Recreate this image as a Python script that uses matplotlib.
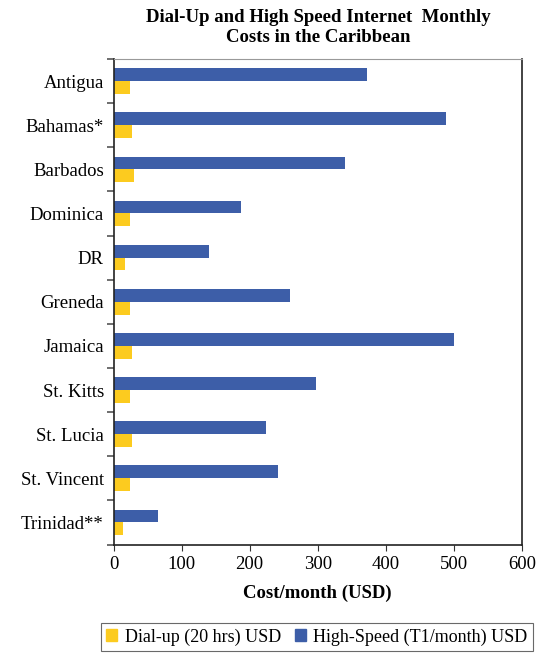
import numpy as np
import matplotlib
matplotlib.use("Agg")
import matplotlib.pyplot as plt
from matplotlib.patches import Patch

plt.rcParams['font.family'] = ['Liberation Serif', 'DejaVu Serif']

# Data
countries = ['Antigua', 'Bahamas*', 'Barbados', 'Dominica', 'DR', 'Greneda',
             'Jamaica', 'St. Kitts', 'St. Lucia', 'St. Vincent', 'Trinidad**']
dialup = [24, 27, 30, 24, 17, 24, 27, 24, 27, 24, 14]
highspeed = [373, 489, 340, 187, 140, 259, 500, 298, 224, 241, 65]

blue = '#3d5ea8'
yellow = '#fccb1f'
fs = 13.5

fig = plt.figure(figsize=(5.47, 6.55), dpi=100)
ax = fig.add_axes([113.5 / 547, 1 - 544.5 / 655, (522 - 113.5) / 547, (544.5 - 59) / 655])

y = np.arange(len(countries))
h = 0.29
ax.barh(y - h / 2, highspeed, height=h, color=blue)
ax.barh(y + h / 2, dialup, height=h, color=yellow)

ax.set_xlim(0, 600)
ax.set_ylim(len(countries) - 0.5, -0.5)
ax.set_xticks(range(0, 601, 100))
ax.tick_params(axis='x', labelsize=fs, direction='out', length=4, color='#333333', pad=4)
ax.set_yticks(y)
ax.set_yticklabels(countries, fontsize=fs)
ax.tick_params(axis='y', which='major', length=0, pad=7)
ax.set_yticks(np.arange(-0.5, len(countries), 1), minor=True)
ax.tick_params(axis='y', which='minor', length=5, width=1.2, color='#555555')

for s in ['left', 'right', 'bottom']:
    ax.spines[s].set_color('#222222')
    ax.spines[s].set_linewidth(1.2)
ax.spines['top'].set_color('#999999')

ax.set_xlabel('Cost/month (USD)', fontsize=fs, fontweight='bold', labelpad=9)
fig.text(0.582, 0.986, 'Dial-Up and High Speed Internet  Monthly\nCosts in the Caribbean',
         ha='center', va='top', fontsize=fs, fontweight='bold', linespacing=1.25)

handles = [Patch(color=yellow), Patch(color=blue)]
leg = fig.legend(handles, ['Dial-up (20 hrs) USD', 'High-Speed (T1/month) USD'],
                 loc='center', bbox_to_anchor=(317 / 547, 1 - 637 / 655), ncol=2,
                 fontsize=13, frameon=True, fancybox=False, edgecolor='#444444',
                 handlelength=0.6, handleheight=0.6, handletextpad=0.4,
                 columnspacing=0.8, borderpad=0.3)
leg.get_frame().set_linewidth(0.8)

fig.savefig('out.png', dpi=100)
